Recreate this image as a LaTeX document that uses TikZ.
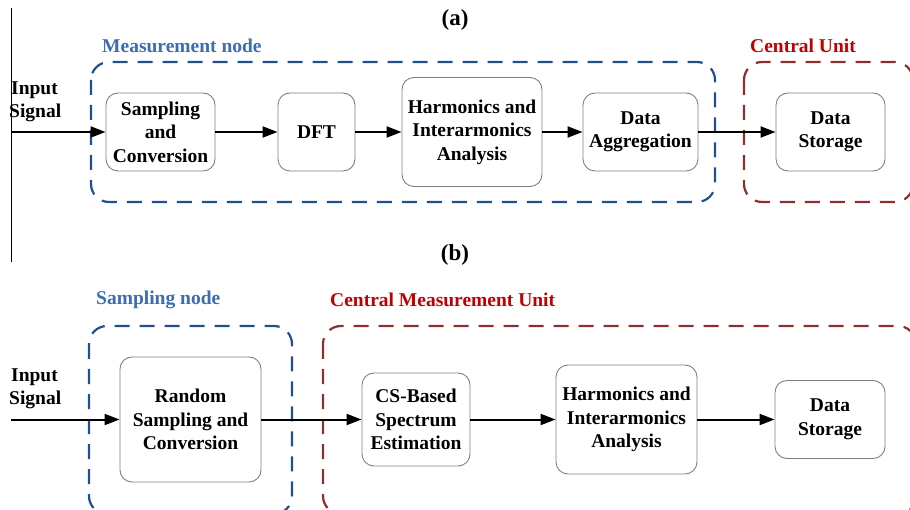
\documentclass[tikz,border=0pt]{standalone}
\usepackage{fontspec}
\setmainfont{Liberation Serif}
\usetikzlibrary{arrows.meta}
\definecolor{grpblue}{HTML}{22508F}
\definecolor{lblblue}{HTML}{3C6DB4}
\definecolor{grpred}{HTML}{8E2E2E}
\definecolor{lblred}{HTML}{C00000}
\definecolor{boxgray}{HTML}{808080}
\tikzset{
  blk/.style={draw=boxgray, line width=0.9pt, rounded corners=12pt, fill=white,
    align=center, inner sep=0pt, font=\fontsize{19.5}{23.5}\selectfont\bfseries},
  grp/.style={line width=2.2pt, dash pattern=on 15pt off 10pt, rounded corners=18pt},
  grplbl/.style={anchor=west, inner sep=0pt, font=\fontsize{19.5}{23.5}\selectfont\bfseries},
  flow/.style={line width=2pt, -{Triangle[length=15pt,width=11pt]}},
  ttl/.style={inner sep=0pt, font=\fontsize{23}{27}\selectfont\bfseries},
  inlbl/.style={anchor=west, align=left, inner sep=0pt, font=\fontsize{19.5}{23.5}\selectfont\bfseries}
}
\begin{document}
\begin{tikzpicture}[x=1pt,y=-1pt]
\useasboundingbox (0,0) rectangle (910,510);
\clip (0,0) rectangle (910,510);
% titles
\node[ttl] (ta) at (455,20) {(a)};
\node[ttl] (tb) at (455,255) {(b)};
\draw[line width=1pt] (11,8) coordinate (vt) -- (11,262) coordinate (vb);
% ---------------- (a)
\draw[grp, grpblue] (91,62) rectangle (715,202);
\draw[grp, grpred] (744,62) rectangle (913,202);
\node[grplbl, lblblue] (lma) at (102,46) {Measurement node};
\node[grplbl, lblred] (lcu) at (750,46) {Central Unit};
\node[inlbl] (ina) at (9,102) {\hspace*{2pt}Input\\Signal};
\coordinate (sa) at (11,132);
\node[blk, minimum width=109pt, minimum height=78pt] (s1) at (160.5,132) {Sampling\\and\\Conversion};
\node[blk, minimum width=77pt, minimum height=78pt] (dft) at (316.5,132) {DFT};
\node[blk, minimum width=140pt, minimum height=109pt] (h1) at (472,132) {Harmonics and\\Interarmonics\\Analysis};
\node[blk, minimum width=115pt, minimum height=78pt] (agg) at (640.5,132) {Data\\Aggregation};
\node[blk, minimum width=109pt, minimum height=78pt] (st1) at (830.5,132) {Data\\Storage};
\draw[flow] (sa) -- (s1.west);
\draw[flow] (s1) -- (dft);
\draw[flow] (dft) -- (h1);
\draw[flow] (h1) -- (agg);
\draw[flow] (agg) -- (st1);
% ---------------- (b)
\draw[grp, grpblue] (89,326) rectangle (292,514);
\draw[grp, grpred] (323,326) rectangle (916,514);
\node[grplbl, lblblue] (lsn) at (96,300) {Sampling node};
\node[grplbl, lblred] (lcm) at (330,300) {Central Measurement Unit};
\node[inlbl] (inb) at (9,389) {\hspace*{2pt}Input\\Signal};
\coordinate (sb) at (11,419.5);
\node[blk, minimum width=141pt, minimum height=125pt] (rs) at (190.5,419.5) {Random\\Sampling and\\Conversion};
\node[blk, minimum width=108pt, minimum height=93pt] (cs) at (416,419.5) {CS-Based\\Spectrum\\Estimation};
\node[blk, minimum width=141pt, minimum height=109pt] (h2) at (626.5,419.5) {Harmonics and\\Interarmonics\\Analysis};
\node[blk, minimum width=110pt, minimum height=78pt] (st2) at (830,419.5) {Data\\Storage};
\draw[flow] (sb) -- (rs.west);
\draw[flow] (rs) -- (cs);
\draw[flow] (cs) -- (h2);
\draw[flow] (h2) -- (st2);
\end{tikzpicture}
\end{document}
